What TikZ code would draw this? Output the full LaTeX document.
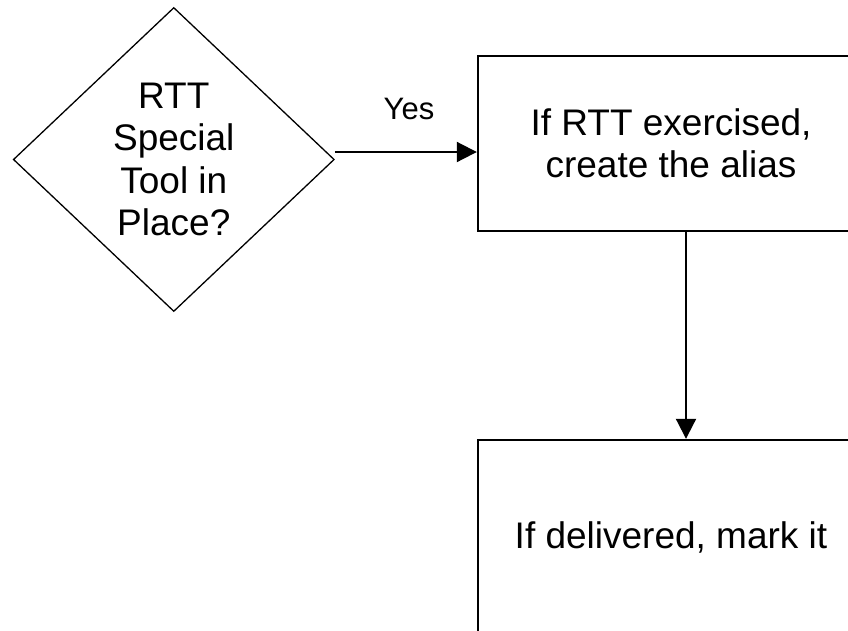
\documentclass[tikz,border=0pt]{standalone}
\usepackage{fontspec}
\setmainfont{Liberation Sans}
\usetikzlibrary{shapes.geometric,arrows.meta}
\begin{document}
\begin{tikzpicture}[x=1pt,y=1pt,
  txt/.style={font=\fontsize{37}{42.5}\selectfont, align=center},
  dec/.style={diamond, draw, line width=1.3pt, minimum width=321pt, minimum height=304pt, inner sep=0pt, aspect=1.05, txt},
  procbox/.style={draw, line width=2.4pt, txt, inner sep=0pt},
  conn/.style={line width=2pt, -{Triangle[length=20pt,width=20pt]}},
  lbl/.style={font=\fontsize{31}{36}\selectfont, anchor=base}]
\useasboundingbox (0,0) rectangle (848,-630);
\clip (0,0) rectangle (848,-630);
\node[dec] (dec) at (173.8,-159.5) {RTT\\Special\\Tool in\\Place?};
\node[procbox, minimum width=386pt, minimum height=175pt] (b1) at (671,-143.5) {If RTT exercised,\\create the alias};
\node[procbox, minimum width=386pt, minimum height=194pt] (b2) at (671,-537) {If delivered, mark it};
\draw[conn] ([yshift=7.5pt]dec.east) -- ([yshift=7.5pt]dec.east -| b1.west);
\node[lbl] (yes) at (409,-119.3) {Yes};
\coordinate (v) at (686,0);
\draw[conn] (b1.south -| v) -- (b2.north -| v);
\end{tikzpicture}
\end{document}
